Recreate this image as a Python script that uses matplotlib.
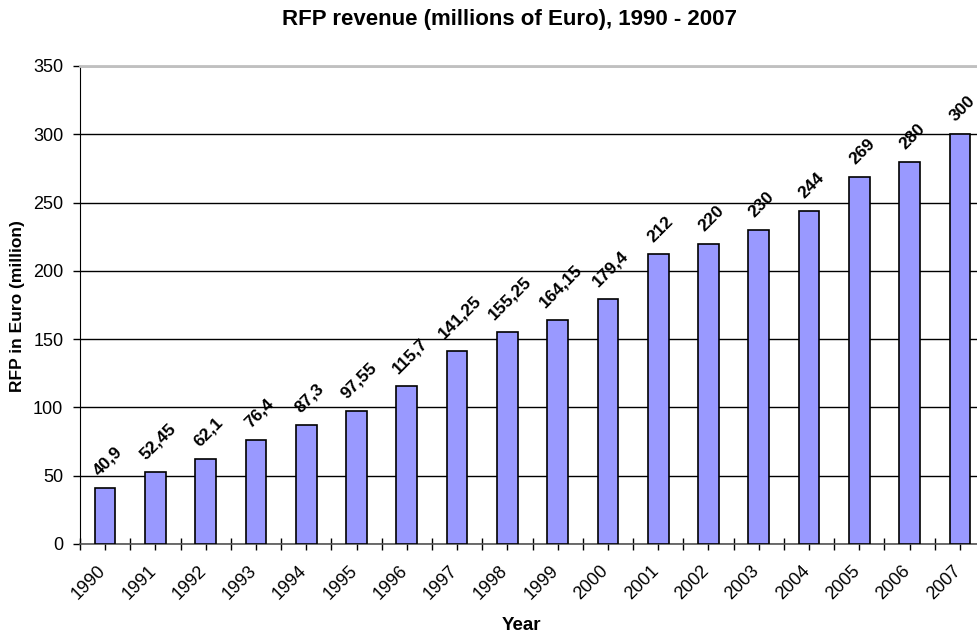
import matplotlib.pyplot as plt
import matplotlib.transforms as mtransforms
import numpy as np

plt.rcParams['font.family'] = ['Liberation Sans', 'DejaVu Sans']

# dati
years = ['1990', '1991', '1992', '1993', '1994', '1995', '1996', '1997', '1998',
         '1999', '2000', '2001', '2002', '2003', '2004', '2005', '2006', '2007']
revenue = [40.9, 52.45, 62.1, 76.4, 87.3, 97.55, 115.7, 141.25, 155.25,
           164.15, 179.4, 212, 220, 230, 244, 269, 280, 300]
labels = ['40,9', '52,45', '62,1', '76,4', '87,3', '97,55', '115,7', '141,25', '155,25',
          '164,15', '179,4', '212', '220', '230', '244', '269', '280', '300']

fig = plt.figure(figsize=(9.77, 6.34), dpi=100)
# l'area del grafico esce a destra come nell'originale (tagliato)
ax = fig.add_axes([80 / 977, 1 - 544 / 634, 905 / 977, 478 / 634])

x = np.arange(len(years))
ax.bar(x, revenue, width=0.41, color='#9999FF', edgecolor='black', linewidth=1.2, zorder=3)

for xi, v, lab in zip(x, revenue, labels):
    ax.annotate(lab, (xi, v), xytext=(2, 7), textcoords='offset points',
                ha='center', va='bottom', rotation=45, fontsize=12.5, fontweight='bold')

ax.set_xlim(-0.5, len(years) - 0.5)
ax.set_ylim(0, 350)
ax.set_yticks(np.arange(0, 351, 50))
ax.yaxis.grid(True, color='black', linewidth=1, zorder=0)

ax.set_xticks(np.arange(-0.5, len(years), 1))
ax.set_xticklabels([])
ax.set_xticks(x, minor=True)
ax.set_xticklabels(years, minor=True, rotation=45, ha='right', rotation_mode='anchor', fontsize=13)
ax.tick_params(axis='x', which='both', direction='inout', length=9, width=1)
ax.tick_params(axis='x', which='minor', pad=9)
ax.tick_params(axis='y', direction='out', length=5, width=1, labelsize=13, pad=7)

# sposta un po' a sinistra le etichette degli anni
shift = mtransforms.ScaledTranslation(-8 / 100, 0, fig.dpi_scale_trans)
for t in ax.get_xticklabels(minor=True):
    t.set_transform(t.get_transform() + shift)

for s in ['top', 'right']:
    ax.spines[s].set_color('#C0C0C0')
ax.spines['top'].set_linewidth(2)
ax.spines['left'].set_color('black')
ax.spines['bottom'].set_color('#555555')
ax.spines['bottom'].set_linewidth(1.2)

fig.text(510 / 977, 1 - 20 / 634, 'RFP revenue (millions of Euro), 1990 - 2007',
         ha='center', va='center', fontsize=16, fontweight='bold')
fig.text(18 / 977, 1 - 306 / 634, 'RFP in Euro (million)', rotation=90,
         ha='center', va='center', fontsize=12.5, fontweight='bold')
fig.text(521 / 977, 1 - 625 / 634, 'Year', ha='center', va='center',
         fontsize=13.5, fontweight='bold')

fig.savefig('out.png', dpi=100)
